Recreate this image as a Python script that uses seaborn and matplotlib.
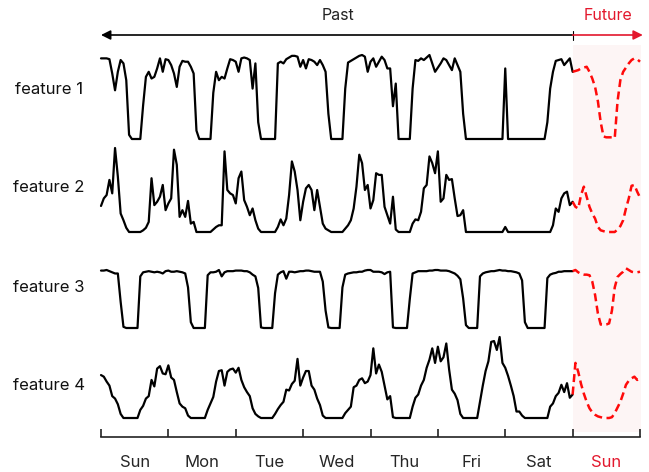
import matplotlib
matplotlib.use("Agg")
import matplotlib.pyplot as plt
import seaborn as sns
import numpy as np

# hourly values, scaled 0..1 per feature; past = hours 0..168, future = hours 168..192
f1_past = [0.96, 0.96, 0.96, 0.95, 0.78, 0.58, 0.80, 0.94, 0.90, 0.70,
           0.05, 0, 0, 0, 0, 0.40, 0.74, 0.80, 0.72, 0.74,
           0.84, 0.96, 0.80, 0.95, 0.94, 0.88, 0.78, 0.62, 0.86, 0.93,
           0.92, 0.92, 0.86, 0.78, 0.10, 0, 0, 0, 0, 0,
           0.55, 0.80, 0.70, 0.74, 0.72, 0.84, 0.95, 0.94, 0.92, 0.80,
           0.96, 0.97, 0.96, 0.94, 0.60, 0.90, 0.20, 0, 0, 0,
           0, 0, 0, 0.90, 0.92, 0.90, 0.95, 0.97, 0.99, 0.99,
           0.98, 0.86, 0.94, 0.84, 0.95, 0.94, 0.92, 0.88, 0.94, 0.88,
           0.80, 0.30, 0, 0, 0, 0, 0, 0.60, 0.91, 0.93,
           0.95, 0.97, 0.99, 1.0, 0.98, 0.80, 0.92, 0.96, 0.86, 0.92,
           0.98, 0.94, 0.84, 0.84, 0.39, 0.66, 0, 0, 0, 0,
           0, 0.60, 0.94, 0.93, 0.96, 0.94, 0.97, 1.0, 0.90, 0.80,
           0.85, 0.90, 0.96, 0.94, 0.88, 0.82, 0.96, 0.88, 0.80, 0.30,
           0, 0, 0, 0, 0, 0, 0, 0, 0, 0,
           0, 0, 0, 0, 0.84, 0, 0, 0, 0, 0,
           0, 0, 0, 0, 0, 0, 0, 0, 0, 0.20,
           0.60, 0.80, 0.93, 0.94, 0.95, 0.88, 0.92, 0.96, 0.80]
f1_future = [0.80, 0.81, 0.82, 0.84, 0.85, 0.86, 0.80, 0.72, 0.62, 0.45,
             0.20, 0.03, 0.02, 0.02, 0.02, 0.01, 0.45, 0.70, 0.80, 0.85,
             0.90, 0.94, 0.96, 0.95, 0.92]

f2_past = [0.31, 0.40, 0.44, 0.62, 0.46, 1.0, 0.66, 0.22, 0.14, 0.05,
           0, 0, 0, 0, 0, 0.02, 0.05, 0.12, 0.64, 0.32,
           0.36, 0.42, 0.56, 0.26, 0.34, 0.40, 0.98, 0.80, 0.18, 0.26,
           0.18, 0.37, 0.10, 0.12, 0, 0, 0, 0, 0, 0,
           0.03, 0.06, 0.08, 0.08, 0.96, 0.50, 0.46, 0.44, 0.34, 0.64,
           0.72, 0.38, 0.30, 0.20, 0.28, 0.14, 0.04, 0, 0, 0,
           0, 0, 0, 0.06, 0.15, 0.08, 0.16, 0.44, 0.84, 0.72,
           0.50, 0.14, 0.36, 0.52, 0.56, 0.50, 0.26, 0.50, 0.30, 0.10,
           0.04, 0.02, 0, 0, 0, 0, 0, 0.04, 0.08, 0.14,
           0.28, 0.54, 0.92, 0.82, 0.50, 0.56, 0.28, 0.38, 0.70, 0.68,
           0.68, 0.30, 0.20, 0.10, 0.42, 0.03, 0, 0, 0, 0,
           0, 0.10, 0.15, 0.14, 0.24, 0.52, 0.56, 0.90, 0.82, 0.70,
           0.96, 0.36, 0.40, 0.68, 0.62, 0.63, 0.40, 0.19, 0.20, 0.26,
           0, 0, 0, 0, 0, 0, 0, 0, 0, 0,
           0, 0, 0, 0, 0.06, 0, 0, 0, 0, 0,
           0, 0, 0, 0, 0, 0, 0, 0, 0, 0,
           0, 0.08, 0.28, 0.24, 0.40, 0.46, 0.48, 0.32, 0.36]
f2_future = [0.36, 0.30, 0.28, 0.44, 0.54, 0.42, 0.30, 0.22, 0.16, 0.06,
             0.02, 0.01, 0, 0, 0, 0, 0.03, 0.07, 0.14, 0.28,
             0.40, 0.55, 0.56, 0.48, 0.41]

f3_past = [0.99, 0.99, 1.0, 0.98, 0.96, 0.94, 0.94, 0.45, 0.02, 0,
           0, 0, 0, 0, 0.89, 0.96, 0.97, 0.98, 0.97, 0.96,
           0.97, 0.96, 0.94, 0.98, 0.99, 0.97, 0.97, 0.98, 0.97, 0.96,
           0.94, 0.70, 0.10, 0, 0, 0, 0, 0, 0.91, 0.96,
           0.96, 0.97, 1.0, 0.89, 0.96, 0.98, 0.98, 0.98, 0.99, 0.99,
           0.99, 0.98, 0.98, 0.96, 0.92, 0.89, 0.69, 0.01, 0, 0,
           0, 0, 0.60, 0.92, 0.96, 0.98, 0.85, 0.97, 0.97, 0.96,
           0.97, 0.98, 0.98, 0.99, 0.99, 0.98, 0.97, 0.97, 0.97, 0.80,
           0.30, 0.01, 0, 0, 0, 0, 0.70, 0.92, 0.94, 0.95,
           0.96, 0.96, 0.97, 0.97, 0.99, 1.0, 1.0, 0.97, 0.97, 0.97,
           0.96, 0.93, 0.96, 0.97, 0.01, 0, 0, 0, 0, 0,
           0.50, 0.94, 0.96, 0.98, 0.98, 0.98, 0.98, 0.99, 0.99, 1.0,
           1.0, 0.99, 0.99, 0.99, 0.98, 0.96, 0.94, 0.90, 0.84, 0.51,
           0.05, 0, 0, 0, 0, 0.89, 0.94, 0.96, 0.97, 0.98,
           0.98, 0.99, 1.0, 0.99, 0.99, 0.98, 0.98, 0.97, 0.96, 0.94,
           0.82, 0.10, 0, 0, 0, 0, 0, 0, 0, 0.86,
           0.92, 0.94, 0.95, 0.97, 0.97, 0.98, 0.98, 0.98, 0.98]
f3_future = [0.98, 1.0, 0.96, 0.93, 0.92, 0.92, 0.91, 0.80, 0.57, 0.25,
             0.06, 0.05, 0.06, 0.08, 0.30, 0.70, 0.88, 0.93, 0.97, 1.03,
             1.0, 0.97, 0.96, 0.96, 0.97]

f4_past = [0.53, 0.51, 0.45, 0.40, 0.27, 0.24, 0.17, 0.05, 0, 0,
           0, 0, 0, 0, 0.10, 0.15, 0.24, 0.27, 0.47, 0.39,
           0.61, 0.64, 0.55, 0.54, 0.65, 0.50, 0.47, 0.32, 0.18, 0.14,
           0.12, 0.03, 0, 0, 0, 0, 0, 0, 0.10, 0.18,
           0.26, 0.45, 0.58, 0.59, 0.40, 0.57, 0.60, 0.61, 0.56, 0.62,
           0.47, 0.38, 0.32, 0.27, 0.12, 0.05, 0.02, 0, 0, 0,
           0, 0, 0.05, 0.11, 0.16, 0.20, 0.35, 0.34, 0.42, 0.46,
           0.73, 0.40, 0.50, 0.58, 0.58, 0.40, 0.35, 0.24, 0.16, 0.03,
           0, 0, 0, 0, 0, 0, 0, 0.06, 0.10, 0.14,
           0.38, 0.40, 0.47, 0.49, 0.43, 0.45, 0.53, 0.86, 0.55, 0.66,
           0.57, 0.40, 0.23, 0.27, 0.01, 0, 0, 0, 0, 0,
           0, 0.14, 0.25, 0.29, 0.40, 0.47, 0.62, 0.72, 0.86, 0.68,
           0.88, 0.70, 0.75, 0.92, 0.60, 0.35, 0.30, 0.22, 0.05, 0,
           0, 0, 0, 0, 0, 0.20, 0.40, 0.58, 0.70, 0.94,
           0.95, 0.84, 1.0, 0.68, 0.62, 0.52, 0.40, 0.27, 0.08, 0.08,
           0.03, 0, 0, 0, 0, 0, 0, 0, 0, 0,
           0.14, 0.18, 0.27, 0.31, 0.41, 0.32, 0.43, 0.25, 0.29]
f4_future = [0.29, 0.68, 0.57, 0.42, 0.30, 0.20, 0.12, 0.07, 0.04, 0.02,
             0.01, 0, 0, 0, 0.01, 0.06, 0.13, 0.20, 0.30, 0.41,
             0.46, 0.49, 0.51, 0.47, 0.49]

features = ["feature 1", "feature 2", "feature 3", "feature 4"]
past = [f1_past, f2_past, f3_past, f4_past]
future = [f1_future, f2_future, f3_future, f4_future]
days = ["Sun", "Mon", "Tue", "Wed", "Thu", "Fri", "Sat", "Sun"]

hours_past = np.arange(len(f1_past))
hours_future = np.arange(len(f1_past) - 1, len(f1_past) - 1 + len(f1_future))

sns.set_style("white")
plt.rcParams['font.family'] = ['Inter', 'DejaVu Sans']

RED = '#e3182d'
W, H = 649, 472
fig = plt.figure(figsize=(W / 100, H / 100), dpi=100)
L = 101 / W
AW = (640 - 101) / W

# background axes in pixel-like y coords for shading / arrow
bg = fig.add_axes([L, 0, AW, 1])
bg.set_xlim(0, 192)
bg.set_ylim(H, 0)
bg.axis('off')
bg.fill_between([168, 193], 45, 432, color='#fdf5f5', lw=0, zorder=0)
bg.annotate('', xy=(0, 35), xytext=(168, 35),
            arrowprops=dict(arrowstyle='-|>', color='black', lw=1.2, mutation_scale=14, shrinkA=0, shrinkB=0))
bg.annotate('', xy=(193, 35), xytext=(168, 35), annotation_clip=False,
            arrowprops=dict(arrowstyle='-|>', color=RED, lw=1.2, mutation_scale=14, shrinkA=0, shrinkB=0))
bg.plot([168, 168], [31, 40], color='black', lw=0.8, clip_on=False)
bg.text(84.5, 15, 'Past', ha='center', va='center', fontsize=11.5, color='#222222')
bg.text(180.5, 15, 'Future', ha='center', va='center', fontsize=11.5, color=RED)

# rows: (top px, bottom px, label y px)
rows = [(55, 139, 89), (148, 232, 188), (270, 328, 288), (337, 418, 385)]

for i, (top, bot, ly) in enumerate(rows):
    ax = fig.add_axes([L, 1 - bot / H, AW, (bot - top) / H])
    ax.patch.set_alpha(0)
    sns.lineplot(x=hours_past, y=past[i], ax=ax, color='black', lw=1.6,
                 estimator=None, clip_on=False)
    sns.lineplot(x=hours_future, y=future[i], ax=ax, color='#ff0a0a', lw=1.8,
                 linestyle='--', dashes=False, estimator=None, clip_on=False)
    for ln in ax.get_lines()[-1:]:
        ln.set_dashes((3.2, 1.8))
    ax.set_xlim(0, 192)
    ax.set_ylim(0, 1)
    ax.axis('off')
    fig.text(49 / W, 1 - ly / H, features[i], ha='center', va='center', fontsize=12, color='#111111')

# bottom time axis
axt = fig.add_axes([L, 1 - 437 / H, AW, 0.02])
axt.patch.set_alpha(0)
axt.set_xlim(0, 192)
axt.set_yticks([])
for s in ['top', 'left', 'right']:
    axt.spines[s].set_visible(False)
axt.spines['bottom'].set_linewidth(1.2)
axt.spines['bottom'].set_color('#222222')
axt.set_xticks(np.arange(0, 193, 24))
axt.set_xticklabels([])
axt.tick_params(axis='x', which='major', bottom=True, direction='in', length=6, width=1.2, color='#222222')
axt.set_xticks(np.arange(12, 192, 24), minor=True)
axt.set_xticklabels(days, minor=True, fontsize=12)
axt.tick_params(axis='x', which='minor', bottom=True, length=0, pad=13)
for lab in axt.get_xticklabels(minor=True)[-1:]:
    lab.set_color(RED)

fig.savefig('out.png', dpi=100)
